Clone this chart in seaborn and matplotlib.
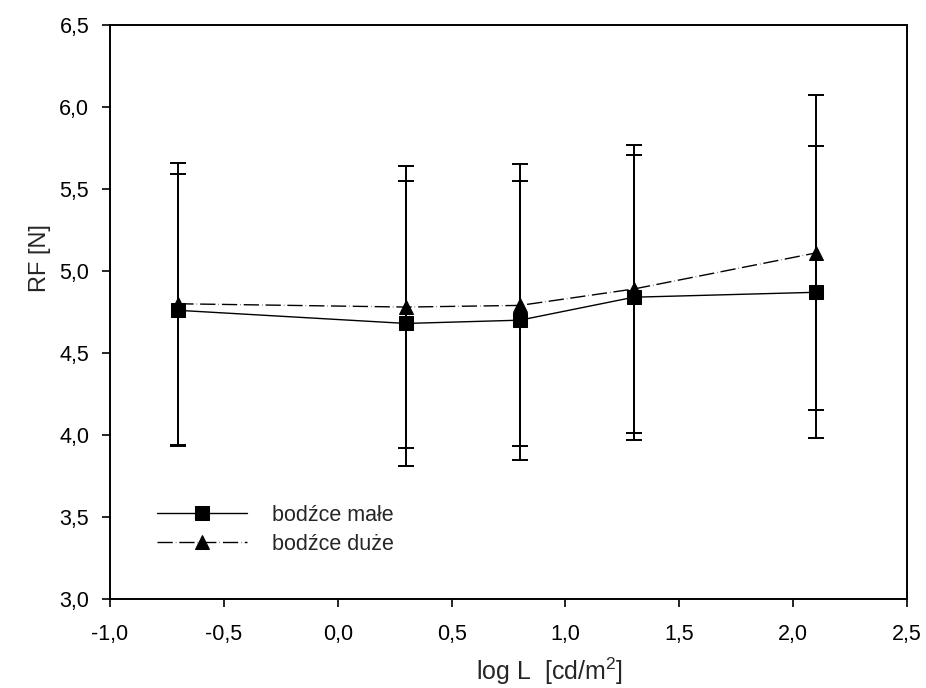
import matplotlib
matplotlib.use("Agg")
import matplotlib.pyplot as plt
import seaborn as sns
import pandas as pd
from matplotlib.ticker import FuncFormatter, MultipleLocator

log_l = [-0.7, 0.3, 0.8, 1.3, 2.1]
small_mean = [4.76, 4.68, 4.70, 4.84, 4.87]
small_sd = [0.83, 0.87, 0.85, 0.87, 0.89]
large_mean = [4.80, 4.78, 4.79, 4.89, 5.11]
large_sd = [0.86, 0.86, 0.86, 0.88, 0.96]
series_names = ["bodźce małe", "bodźce duże"]

sns.set_style("ticks")
plt.rcParams['font.family'] = ['Liberation Sans', 'DejaVu Sans']
plt.rcParams['mathtext.fontset'] = 'custom'
plt.rcParams['mathtext.rm'] = 'Liberation Sans'

fig = plt.figure(figsize=(9.26, 6.88), dpi=100)
ax = fig.add_axes([0.1188, 0.1294, 0.8607, 0.8343])

df_small = pd.DataFrame({"x": log_l, "y": small_mean})
df_large = pd.DataFrame({"x": log_l, "y": large_mean})

dash = (0, (11, 2.2, 0.3, 2.2))
sns.lineplot(data=df_small, x="x", y="y", ax=ax, color="black", lw=1.0,
             marker="s", markersize=9.5, markeredgecolor="black",
             label=series_names[0], zorder=3)
sns.lineplot(data=df_large, x="x", y="y", ax=ax, color="black", lw=1.0,
             linestyle=dash, marker="^", markersize=10.5, markeredgecolor="black",
             label=series_names[1], zorder=3)

ax.errorbar(log_l, small_mean, yerr=small_sd, fmt="none", ecolor="black",
            elinewidth=1.4, capsize=6, capthick=1.4, zorder=2)
ax.errorbar(log_l, large_mean, yerr=large_sd, fmt="none", ecolor="black",
            elinewidth=1.4, capsize=6, capthick=1.4, zorder=2)

ax.set_xlim(-1.0, 2.5)
ax.set_ylim(3.0, 6.5)
ax.xaxis.set_major_locator(MultipleLocator(0.5))
ax.yaxis.set_major_locator(MultipleLocator(0.5))
fmt = FuncFormatter(lambda v, p: f"{v:.1f}".replace(".", ",").replace("-0,0", "0,0"))
ax.xaxis.set_major_formatter(fmt)
ax.yaxis.set_major_formatter(fmt)
ax.tick_params(direction="out", length=6, width=1.2, labelsize=15.5, colors="black")
ax.tick_params(axis="x", pad=12)
ax.tick_params(axis="y", pad=9)
for s in ax.spines.values():
    s.set_linewidth(1.4)
    s.set_color("black")

ax.set_xlabel(r"log L  [cd/m$^\mathrm{2}$]", fontsize=18)
ax.set_ylabel("RF [N]", fontsize=17)
ax.xaxis.set_label_coords(0.552, -0.098)
ax.yaxis.set_label_coords(-0.088, 0.594)
ax.yaxis.label.set_verticalalignment("center")

leg = ax.legend(loc="upper left", bbox_to_anchor=(0.059, 0.164), frameon=False,
                fontsize=15.5, handlelength=4.2, handletextpad=1.15,
                labelspacing=0.38, borderpad=0, borderaxespad=0)

fig.savefig("out.png", dpi=100)
